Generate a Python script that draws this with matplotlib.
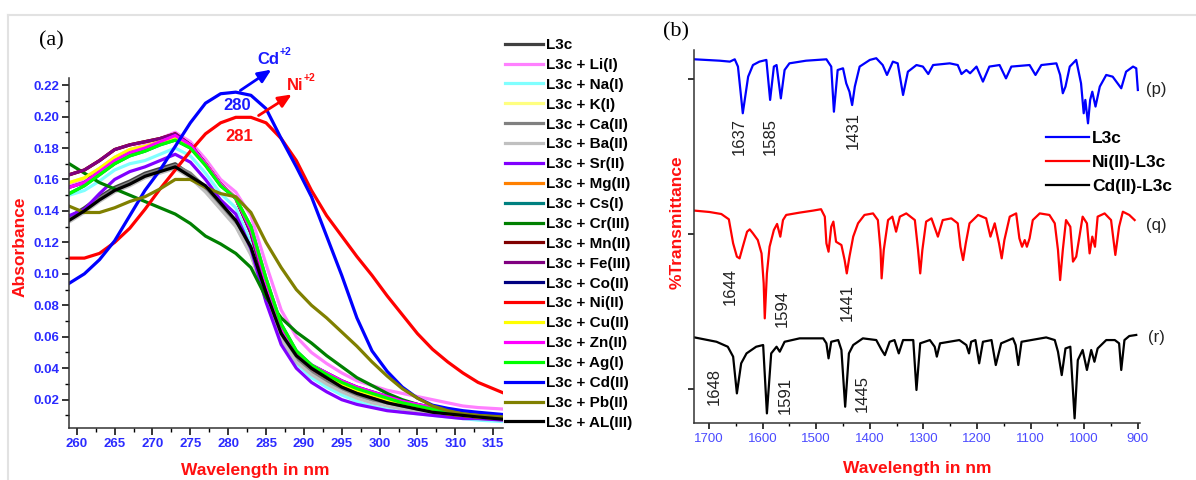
import matplotlib.pyplot as plt
import matplotlib.ticker as mticker
from matplotlib.lines import Line2D

# ── UV-Vis data (panel a) ──────────────────────────────────────────────────────
wl = [259, 261, 263, 265, 267, 269, 271, 273, 275, 277, 279, 281, 283, 285, 287,
      289, 291, 293, 295, 297, 299, 301, 303, 305, 307, 309, 311, 313, 316.5]

abs_l3c = [0.136, 0.142, 0.149, 0.155, 0.159, 0.164, 0.167, 0.170, 0.163, 0.153, 0.142, 0.131, 0.113, 0.084, 0.059,
           0.045, 0.037, 0.031, 0.026, 0.022, 0.019, 0.017, 0.015, 0.013, 0.011, 0.010, 0.009, 0.008, 0.007]
abs_li = [0.157, 0.160, 0.167, 0.174, 0.179, 0.182, 0.186, 0.190, 0.184, 0.173, 0.160, 0.152, 0.137, 0.106, 0.077,
          0.060, 0.050, 0.043, 0.037, 0.032, 0.029, 0.026, 0.024, 0.022, 0.020, 0.018, 0.016, 0.015, 0.014]
abs_na = [0.150, 0.153, 0.159, 0.166, 0.170, 0.172, 0.176, 0.180, 0.175, 0.164, 0.151, 0.142, 0.120, 0.085, 0.058,
          0.043, 0.034, 0.028, 0.023, 0.019, 0.016, 0.014, 0.012, 0.011, 0.010, 0.009, 0.008, 0.007, 0.006]
abs_k = [0.158, 0.161, 0.167, 0.174, 0.179, 0.181, 0.184, 0.187, 0.181, 0.170, 0.157, 0.148, 0.129, 0.096, 0.067,
         0.050, 0.041, 0.035, 0.030, 0.026, 0.023, 0.020, 0.017, 0.015, 0.013, 0.011, 0.010, 0.009, 0.008]
abs_ca = [0.135, 0.141, 0.148, 0.154, 0.158, 0.163, 0.166, 0.169, 0.164, 0.155, 0.143, 0.132, 0.115, 0.086, 0.060,
          0.046, 0.038, 0.032, 0.027, 0.023, 0.020, 0.017, 0.015, 0.013, 0.012, 0.011, 0.010, 0.009, 0.008]
abs_ba = [0.133, 0.139, 0.146, 0.152, 0.156, 0.161, 0.164, 0.167, 0.161, 0.152, 0.141, 0.130, 0.112, 0.083, 0.058,
          0.044, 0.036, 0.030, 0.025, 0.021, 0.018, 0.016, 0.014, 0.012, 0.011, 0.010, 0.009, 0.008, 0.007]
abs_sr = [0.137, 0.141, 0.151, 0.160, 0.165, 0.168, 0.172, 0.176, 0.171, 0.160, 0.147, 0.138, 0.116, 0.082, 0.055,
          0.040, 0.031, 0.025, 0.020, 0.017, 0.015, 0.013, 0.012, 0.011, 0.010, 0.009, 0.008, 0.008, 0.007]
abs_mg = [0.163, 0.166, 0.172, 0.179, 0.182, 0.184, 0.186, 0.189, 0.182, 0.170, 0.157, 0.148, 0.126, 0.092, 0.064,
          0.049, 0.040, 0.034, 0.029, 0.025, 0.022, 0.019, 0.017, 0.015, 0.013, 0.011, 0.010, 0.009, 0.008]
abs_cs = [0.151, 0.156, 0.163, 0.170, 0.175, 0.178, 0.182, 0.185, 0.180, 0.169, 0.156, 0.148, 0.130, 0.097, 0.068,
          0.051, 0.042, 0.036, 0.031, 0.027, 0.024, 0.021, 0.018, 0.016, 0.014, 0.012, 0.011, 0.010, 0.009]
abs_cr = [0.170, 0.164, 0.158, 0.154, 0.150, 0.146, 0.142, 0.138, 0.132, 0.124, 0.119, 0.113, 0.104, 0.085, 0.072,
          0.063, 0.056, 0.048, 0.041, 0.034, 0.029, 0.024, 0.020, 0.017, 0.014, 0.012, 0.011, 0.010, 0.009]
abs_mn = [0.163, 0.166, 0.172, 0.179, 0.182, 0.184, 0.186, 0.189, 0.182, 0.170, 0.157, 0.148, 0.126, 0.092, 0.064,
          0.049, 0.040, 0.034, 0.029, 0.025, 0.022, 0.019, 0.017, 0.015, 0.013, 0.011, 0.010, 0.009, 0.008]
abs_fe = [0.163, 0.166, 0.172, 0.179, 0.182, 0.184, 0.186, 0.189, 0.182, 0.170, 0.157, 0.148, 0.126, 0.092, 0.064,
          0.049, 0.040, 0.034, 0.029, 0.025, 0.022, 0.019, 0.017, 0.015, 0.013, 0.011, 0.010, 0.009, 0.008]
abs_co = [0.155, 0.158, 0.165, 0.172, 0.177, 0.180, 0.184, 0.188, 0.182, 0.170, 0.157, 0.148, 0.128, 0.094, 0.066,
          0.050, 0.042, 0.037, 0.032, 0.028, 0.025, 0.022, 0.019, 0.017, 0.015, 0.013, 0.012, 0.011, 0.010]
abs_ni = [0.110, 0.110, 0.113, 0.120, 0.129, 0.141, 0.154, 0.166, 0.178, 0.189, 0.196, 0.1995, 0.1995, 0.196, 0.186,
          0.172, 0.153, 0.137, 0.124, 0.111, 0.099, 0.086, 0.074, 0.062, 0.052, 0.044, 0.037, 0.031, 0.024]
abs_cu = [0.158, 0.161, 0.167, 0.174, 0.179, 0.181, 0.184, 0.187, 0.181, 0.170, 0.157, 0.148, 0.129, 0.096, 0.067,
          0.050, 0.041, 0.035, 0.030, 0.026, 0.023, 0.020, 0.017, 0.015, 0.013, 0.011, 0.010, 0.009, 0.008]
abs_zn = [0.155, 0.158, 0.165, 0.172, 0.177, 0.180, 0.184, 0.188, 0.182, 0.170, 0.157, 0.148, 0.128, 0.094, 0.066,
          0.050, 0.042, 0.037, 0.032, 0.028, 0.025, 0.022, 0.019, 0.017, 0.015, 0.013, 0.012, 0.011, 0.010]
abs_ag = [0.151, 0.156, 0.163, 0.170, 0.175, 0.178, 0.182, 0.185, 0.180, 0.169, 0.156, 0.148, 0.130, 0.097, 0.068,
          0.051, 0.042, 0.036, 0.031, 0.027, 0.024, 0.021, 0.018, 0.016, 0.014, 0.012, 0.011, 0.010, 0.009]
abs_cd = [0.094, 0.100, 0.109, 0.121, 0.137, 0.153, 0.166, 0.181, 0.196, 0.2085, 0.2145, 0.2155, 0.2135, 0.205, 0.186,
          0.168, 0.149, 0.124, 0.099, 0.072, 0.051, 0.038, 0.028, 0.021, 0.0165, 0.0145, 0.013, 0.012, 0.0105]
abs_pb = [0.143, 0.139, 0.139, 0.142, 0.146, 0.149, 0.154, 0.160, 0.160, 0.155, 0.151, 0.149, 0.139, 0.120, 0.104,
          0.090, 0.080, 0.072, 0.063, 0.054, 0.044, 0.035, 0.027, 0.021, 0.016, 0.013, 0.011, 0.010, 0.009]
abs_al = [0.134, 0.140, 0.147, 0.153, 0.157, 0.162, 0.165, 0.168, 0.162, 0.156, 0.145, 0.134, 0.117, 0.088, 0.062,
          0.048, 0.040, 0.034, 0.028, 0.024, 0.021, 0.018, 0.016, 0.014, 0.012, 0.011, 0.010, 0.009, 0.0075]

uv_labels = ["L3c", "L3c + Li(I)", "L3c + Na(I)", "L3c + K(I)", "L3c + Ca(II)", "L3c + Ba(II)",
             "L3c + Sr(II)", "L3c + Mg(II)", "L3c + Cs(I)", "L3c + Cr(III)", "L3c + Mn(II)",
             "L3c + Fe(III)", "L3c + Co(II)", "L3c + Ni(II)", "L3c + Cu(II)", "L3c + Zn(II)",
             "L3c + Ag(I)", "L3c + Cd(II)", "L3c + Pb(II)", "L3c + AL(III)"]
uv_colors = ["#404040", "#FF80FF", "#80FFFF", "#FFFF80", "#808080", "#C0C0C0", "#8000FF",
             "#FF8000", "#008080", "#008000", "#800000", "#800080", "#000080", "#FF0000",
             "#FFFF00", "#FF00FF", "#00FF00", "#0000FF", "#808000", "#000000"]

# ── IR data (panel b), offset %T traces ───────────────────────────────────────
p_wn = [1727, 1680, 1661, 1652, 1646, 1637, 1627, 1618, 1606, 1593, 1586, 1579, 1574, 1566, 1559,
        1550, 1519, 1481, 1472, 1467, 1460, 1450, 1444, 1438, 1433, 1428, 1419, 1400, 1388, 1376,
        1368, 1357, 1348, 1338, 1329, 1313, 1301, 1291, 1282, 1251, 1236, 1229, 1220, 1213, 1201,
        1189, 1177, 1158, 1146, 1136, 1102, 1091, 1080, 1052, 1045, 1040, 1035, 1027, 1015, 1006,
        1001, 998, 993, 989, 985, 979, 971, 959, 947, 931, 922, 909, 903, 900]
p_t = [232.7, 231.8, 231.2, 232.7, 228.0, 197.9, 221.5, 229.0, 231.2, 232.3, 206.5, 228.0, 229.0, 207.5, 225.8,
       230.1, 231.8, 232.7, 228.0, 198.9, 225.8, 226.9, 217.2, 211.8, 203.2, 215.1, 228.0, 232.3, 233.4, 229.0,
       222.6, 231.2, 230.1, 209.7, 224.7, 229.0, 228.0, 223.2, 229.0, 230.1, 229.0, 223.2, 225.8, 223.7, 228.0,
       218.3, 228.0, 229.0, 220.4, 228.0, 229.0, 222.6, 229.0, 230.1, 222.6, 210.8, 215.1, 228.0, 232.3, 217.2,
       197.9, 206.5, 191.4, 206.5, 211.8, 202.2, 215.1, 222.6, 221.5, 214.0, 224.7, 228.0, 226.9, 212.9]

q_wn = [1727, 1699, 1677, 1663, 1655, 1648, 1643, 1637, 1629, 1624, 1618, 1609, 1602, 1598, 1596,
        1592, 1587, 1579, 1573, 1567, 1562, 1556, 1531, 1506, 1491, 1484, 1481, 1477, 1472, 1468,
        1463, 1453, 1447, 1443, 1438, 1431, 1422, 1410, 1394, 1385, 1380, 1378, 1374, 1366, 1358,
        1351, 1344, 1332, 1316, 1310, 1306, 1302, 1295, 1285, 1273, 1264, 1248, 1236, 1231, 1226,
        1221, 1214, 1198, 1183, 1175, 1167, 1159, 1154, 1149, 1139, 1127, 1121, 1116, 1111, 1107,
        1102, 1096, 1083, 1065, 1055, 1049, 1045, 1040, 1034, 1026, 1021, 1015, 1009, 1003, 995,
        990, 985, 980, 975, 962, 950, 942, 935, 928, 916, 906]
q_t = [135.1, 134.2, 132.9, 129.5, 114.0, 105.4, 104.3, 111.8, 121.5, 123.0, 120.4, 116.1, 107.5, 88.2, 65.6,
       94.6, 111.8, 122.6, 126.5, 118.3, 129.0, 132.3, 133.8, 135.1, 136.0, 131.2, 114.0, 108.6, 124.7, 128.0,
       115.0, 112.9, 103.2, 94.6, 105.4, 118.3, 126.9, 132.3, 133.3, 129.0, 109.7, 91.4, 109.7, 129.0, 131.2,
       121.5, 131.2, 133.3, 129.0, 109.7, 94.6, 109.7, 128.0, 130.1, 118.3, 129.0, 130.1, 126.9, 111.8, 103.2,
       114.0, 126.9, 132.3, 130.1, 118.3, 126.9, 114.0, 104.3, 116.1, 131.2, 133.3, 117.2, 111.8, 116.1, 111.8,
       117.2, 129.0, 133.3, 132.3, 126.9, 109.7, 90.3, 109.7, 129.0, 124.7, 102.2, 105.4, 118.3, 131.2, 126.9,
       107.5, 118.3, 111.8, 131.2, 133.3, 129.0, 106.5, 124.7, 134.4, 132.3, 129.0]

r_wn = [1727, 1686, 1665, 1655, 1648, 1640, 1630, 1612, 1599, 1592, 1584, 1574, 1568, 1559, 1531,
        1487, 1481, 1477, 1472, 1459, 1453, 1446, 1439, 1431, 1413, 1388, 1378, 1372, 1363, 1354,
        1346, 1338, 1319, 1313, 1306, 1288, 1279, 1275, 1269, 1233, 1220, 1215, 1211, 1203, 1196,
        1189, 1173, 1165, 1155, 1133, 1128, 1123, 1117, 1071, 1055, 1049, 1042, 1035, 1026, 1018,
        1012, 1003, 995, 987, 981, 975, 959, 943, 935, 931, 925, 916, 903]
r_t = [53.3, 50.5, 47.3, 40.9, 17.2, 36.6, 43.0, 47.3, 48.4, 4.3, 43.0, 47.3, 44.1, 50.5, 52.7,
       52.7, 49.5, 39.8, 50.5, 51.6, 45.2, 8.6, 43.0, 48.4, 52.7, 51.6, 45.2, 41.9, 50.5, 51.6,
       43.0, 51.6, 51.6, 19.4, 49.5, 51.6, 47.3, 40.9, 49.5, 51.6, 48.4, 43.0, 50.5, 51.6, 36.6,
       50.5, 51.6, 35.5, 49.5, 52.7, 48.4, 35.5, 50.5, 53.3, 51.6, 44.1, 29.0, 46.2, 47.3, 1.1,
       38.7, 45.2, 32.3, 45.2, 37.6, 46.2, 51.6, 51.6, 49.5, 32.3, 51.6, 54.2, 54.9]

# Peak labels: (text, wavenumber, level)
peak_text = ["1637", "1585", "1431", "1644", "1594", "1441", "1648", "1591", "1445"]
peak_wn = [1644, 1586, 1430, 1660, 1564, 1443, 1691, 1557, 1415]
peak_t = [183, 183, 186.5, 86, 72, 76, 21.5, 16, 17]

W, H = 1196, 480
plt.rcParams.update({
    "font.family": ["Liberation Sans", "DejaVu Sans"],
    "axes.spines.top": False,
    "axes.spines.right": False,
    "axes.linewidth": 1.1,
    "axes.edgecolor": "#333333",
})

fig = plt.figure(figsize=(W / 100, H / 100), dpi=100)


def fx(px):
    return px / W


def fy(py):
    return 1 - py / H


# screenshot frame
fig.add_artist(Line2D([fx(8), fx(W)], [fy(15), fy(15)], color="#e2e2e2", lw=1.5))
fig.add_artist(Line2D([fx(8), fx(8)], [fy(15), 0], color="#e2e2e2", lw=1.5))

# ── Panel (a) ──────────────────────────────────────────────────────────────────
ax = fig.add_axes([fx(69), fy(428), fx(503 - 69), (428 - 78) / H])
series = [abs_l3c, abs_li, abs_na, abs_k, abs_ca, abs_ba, abs_sr, abs_mg, abs_cs, abs_cr,
          abs_mn, abs_fe, abs_co, abs_ni, abs_cu, abs_zn, abs_ag, abs_cd, abs_pb, abs_al]
for vals, lab, col in zip(series, uv_labels, uv_colors):
    ax.plot(wl, vals, color=col, lw=2.3, label=lab, solid_joinstyle="round")

ax.set_xlim(258.97, 316.3)
ax.set_ylim(0.002, 0.2245)
ax.xaxis.set_major_locator(mticker.MultipleLocator(5))
ax.xaxis.set_minor_locator(mticker.MultipleLocator(2.5))
ax.yaxis.set_major_locator(mticker.MultipleLocator(0.02))
ax.yaxis.set_minor_locator(mticker.MultipleLocator(0.01))
ax.yaxis.set_major_formatter(mticker.FormatStrFormatter("%.2f"))
ax.tick_params(which="major", direction="out", length=5, width=1.1, labelsize=9.5,
               labelcolor="#2b2bff", pad=2)
ax.tick_params(which="minor", direction="out", length=3, width=1.0)
for t in ax.get_xticklabels() + ax.get_yticklabels():
    t.set_fontweight("bold")

ax.set_xlabel("Wavelength in nm", color="#ff1010", fontsize=12.5, fontweight="bold",
              va="center", ha="center")
ax.xaxis.set_label_coords(0.43, -0.12)
ax.set_ylabel("Absorbance", color="#ff1010", fontsize=12.5, fontweight="bold",
              va="center", ha="center")
ax.yaxis.set_label_coords(-0.113, 0.517)

# peak annotations
ax.text(281.2, 0.2067, "280", color="#1a1aff", fontsize=12, fontweight="bold", ha="center", va="center")
ax.text(281.5, 0.1876, "281", color="#ff1010", fontsize=12, fontweight="bold", ha="center", va="center")
ax.annotate("", xy=(286.0, 0.2308), xytext=(281.3, 0.2156), annotation_clip=False,
            arrowprops=dict(arrowstyle="-|>,head_length=0.8,head_width=0.35", color="#0000ff", lw=2))
ax.annotate("", xy=(288.7, 0.215), xytext=(283.7, 0.1997), annotation_clip=False,
            arrowprops=dict(arrowstyle="-|>,head_length=0.8,head_width=0.35", color="#ff0000", lw=2))
ax.text(285.3, 0.2365, "Cd", color="#1a1aff", fontsize=12, fontweight="bold", ha="center",
        va="center", clip_on=False)
ax.text(287.6, 0.2412, "+2", color="#1a1aff", fontsize=7.5, fontweight="bold", ha="center",
        va="center", clip_on=False)
ax.text(288.8, 0.2195, "Ni", color="#ff1010", fontsize=12, fontweight="bold", ha="center",
        va="center", clip_on=False)
ax.text(290.8, 0.2242, "+2", color="#ff1010", fontsize=7.5, fontweight="bold", ha="center",
        va="center", clip_on=False)

fig.text(fx(51), fy(41), "(a)", family="Liberation Serif", fontsize=16, ha="center", va="center")

fig.legend(*ax.get_legend_handles_labels(), loc="upper left", bbox_to_anchor=(fx(505), fy(38)),
           frameon=False, prop=dict(weight="bold", size=11), handlelength=2.5,
           handletextpad=0.2, labelspacing=0.385, borderpad=0, borderaxespad=0)

# ── Panel (b) ──────────────────────────────────────────────────────────────────
bx = fig.add_axes([fx(694), fy(423), fx(1140 - 694), (423 - 50) / H])
bx.plot(p_wn, p_t, color="#0000ff", lw=1.6, label="L3c")
bx.plot(q_wn, q_t, color="#ff0000", lw=1.6, label="Ni(II)-L3c")
bx.plot(r_wn, r_t, color="#000000", lw=1.6, label="Cd(II)-L3c")

bx.set_xlim(1728, 896)
bx.set_ylim(-1.9, 238.7)
bx.xaxis.set_major_locator(mticker.MultipleLocator(100))
bx.xaxis.set_minor_locator(mticker.MultipleLocator(50))
bx.set_yticks([20, 120, 220])
bx.set_yticklabels([])
bx.tick_params(which="major", direction="out", length=4, width=1.1, labelsize=9.5,
               labelcolor="#4a4aff", pad=3)
bx.tick_params(which="minor", direction="out", length=2.5, width=1.0)

bx.set_xlabel("Wavelength in nm", color="#ff1010", fontsize=12.5, fontweight="bold",
              va="center", ha="center")
bx.xaxis.set_label_coords(0.5, -0.121)
bx.set_ylabel("%Transmittance", color="#ff1010", fontsize=12.5, fontweight="bold",
              va="center", ha="center")
bx.yaxis.set_label_coords(-0.038, 0.539)

for txt, wn, tv in zip(peak_text, peak_wn, peak_t):
    bx.text(wn, tv, txt, rotation=90, fontsize=12, color="#222222", ha="center", va="center")

for txt, tv in zip(["(p)", "(q)", "(r)"], [213.5, 125.8, 53.5]):
    bx.text(865, tv, txt, fontsize=12, color="#222222", ha="center", va="center", clip_on=False)

bx.legend(loc="upper left", bbox_to_anchor=(fx(1046), fy(131)), bbox_transform=fig.transFigure,
          frameon=False, prop=dict(weight="bold", size=12.5), handlelength=2.5,
          handletextpad=0.15, labelspacing=0.5, borderpad=0, borderaxespad=0)

fig.text(fx(676), fy(32), "(b)", family="Liberation Serif", fontsize=16, ha="center", va="center")

fig.savefig("out.png", dpi=100)
